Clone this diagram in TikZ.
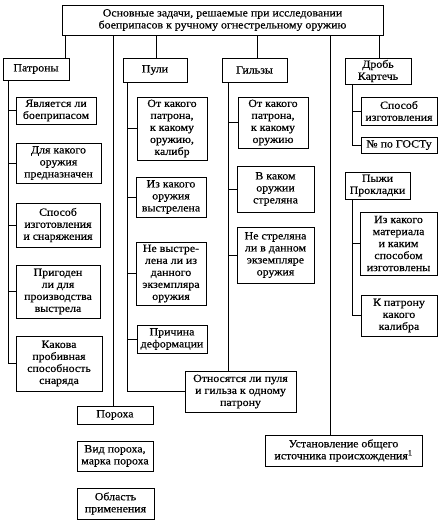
\documentclass[tikz,border=0pt]{standalone}
\usepackage{fontspec}
\setmainfont[FakeStretch=1.08,FakeBold=0.4]{Liberation Serif}
\newcommand\bx[6]{\node[box, minimum width={(#4-#2)*1pt}, minimum height={(#5-#3)*1pt}] (#1) at ({(#2+#4)/2},{(#3+#5)/2}) {#6};}
\begin{document}
\begin{tikzpicture}[x=1pt,y=-1pt,
  box/.style={draw, line width=1pt, inner sep=0pt, align=center, font=\fontsize{11}{12}\selectfont},
  ln/.style={line width=0.8pt}]
\useasboundingbox (0,0) rectangle (442,525);
% title
\bx{title}{62}{5}{383}{35}{Основные задачи, решаемые при исследовании\\боеприпасов к ручному огнестрельному оружию}
% Патроны
\bx{pat}{3}{58}{69}{80}{Патроны}
\bx{p1}{16}{97}{96}{124}{Является ли\\боеприпасом}
\bx{p2}{16}{143}{101}{183}{Для какого\\оружия\\предназначен}
\bx{p3}{16}{203}{100}{247}{Способ\\изготовления\\и снаряжения}
\bx{p4}{16}{265}{100}{318}{Пригоден\\ли для\\производства\\выстрела}
\bx{p5}{16}{336}{102}{391}{Какова\\пробивная\\способность\\снаряда}
% Пули
\bx{pul}{123}{58}{187}{82}{Пули}
\bx{u1}{137}{97}{207}{160}{От какого\\патрона,\\к какому\\оружию,\\калибр}
\bx{u2}{136}{177}{206}{217}{Из какого\\оружия\\выстрелена}
\bx{u3}{136}{242}{206}{305}{Не выстре-\\лена ли из\\данного\\экземпляра\\оружия}
\bx{u4}{137}{325}{207}{353}{Причина\\деформации}
% Гильзы
\bx{gil}{222}{58}{287}{82}{Гильзы}
\bx{g1}{238}{97}{308}{148}{От какого\\патрона,\\к какому\\оружию}
\bx{g2}{237}{166}{314}{212}{В каком\\оружии\\стреляна}
\bx{g3}{237}{227}{314}{283}{Не стреляна\\ли в данном\\экземпляре\\оружия}
\bx{otn}{185}{371}{296}{412}{Относятся ли пуля\\и гильза к одному\\патрону}
% Дробь
\bx{drob}{345}{58}{411}{84}{Дробь\\Картечь}
\bx{d1}{361}{97}{437}{125}{Способ\\изготовления}
\bx{d2}{361}{137}{437}{153}{№ по ГОСТу}
\bx{pyz}{345}{172}{410}{199}{Пыжи\\Прокладки}
\bx{z1}{360}{212}{437}{275}{Из какого\\материала\\и каким\\способом\\изготовлены}
\bx{z2}{361}{295}{437}{336}{К патрону\\какого\\калибра}
% bottom
\bx{ust}{265}{435}{422}{466}{Установление общего\\источника происхождения\textsuperscript{1}}
\bx{por}{77}{406}{153}{424}{Пороха}
\bx{por1}{77}{441}{153}{471}{Вид пороха,\\марка пороха}
\bx{por2}{77}{488}{154}{519}{Область\\применения}
% trunk x positions
\coordinate (tA) at (65,0);
\coordinate (tB) at (113,0);
\coordinate (tC) at (156,0);
\coordinate (tD) at (257,0);
\coordinate (tE) at (330,0);
\coordinate (tF) at (379,0);
\coordinate (pA) at (8,0);
\coordinate (uA) at (127,0);
\coordinate (gA) at (228,0);
\coordinate (dA) at (352,0);
% from title
\draw[ln] (title.south -| tA) -- (pat.north -| tA);
\draw[ln] (title.south -| tB) -- (por.north -| tB);
\draw[ln] (title.south -| tC) -- (pul.north -| tC);
\draw[ln] (title.south -| tD) -- (gil.north -| tD);
\draw[ln] (title.south -| tE) -- (ust.north -| tE);
\draw[ln] (title.south -| tF) -- (drob.north -| tF);
% Патроны
\draw[ln] (pat.south -| pA) |- (p5.west);
\foreach \n in {p1,p2,p3,p4} \draw[ln] (pA |- \n.west) -- (\n.west);
% Пули
\draw[ln] (pul.south -| uA) |- (otn.west);
\foreach \n in {u1,u2,u3,u4} \draw[ln] (uA |- \n.west) -- (\n.west);
% Гильзы
\draw[ln] (gil.south -| gA) -- (otn.north -| gA);
\foreach \n in {g1,g2,g3} \draw[ln] (gA |- \n.west) -- (\n.west);
% Дробь, Пыжи
\draw[ln] (drob.south -| dA) |- (d2.west);
\draw[ln] (dA |- d1.west) -- (d1.west);
\draw[ln] (pyz.south -| dA) |- (z2.west);
\draw[ln] (dA |- z1.west) -- (z1.west);
\end{tikzpicture}
\end{document}
